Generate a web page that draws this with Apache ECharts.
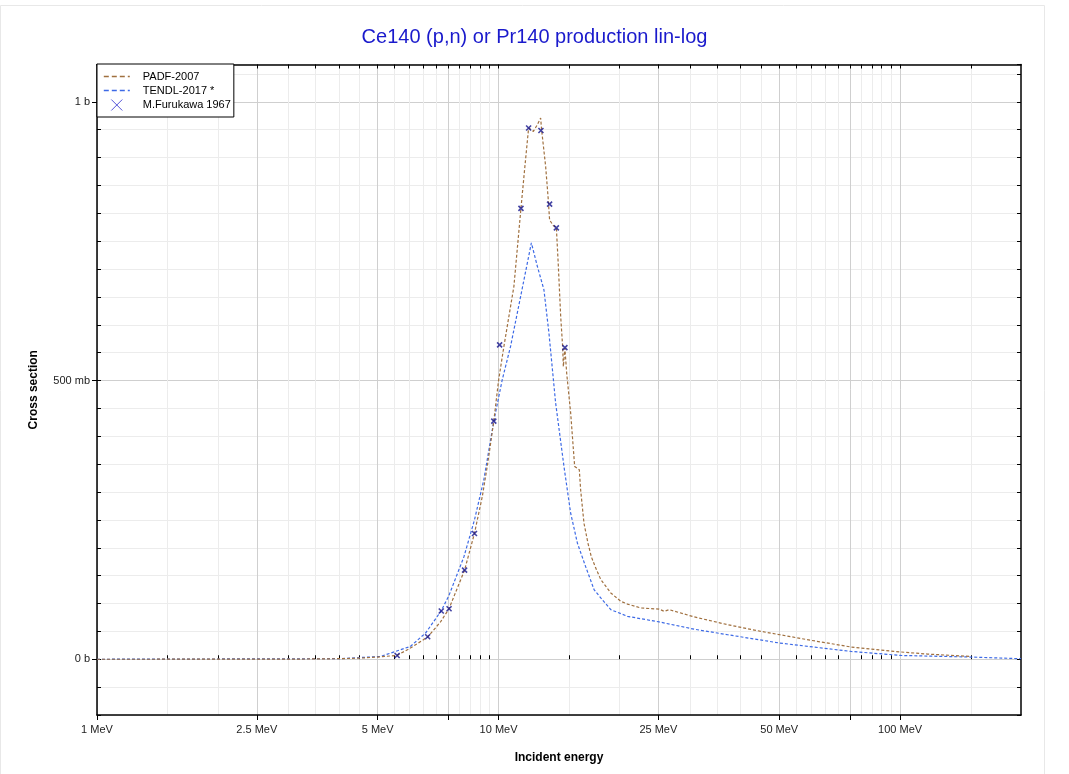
<!DOCTYPE html>
<html>
<head>
<meta charset="utf-8">
<script src="https://cdn.jsdelivr.net/npm/echarts@6/dist/echarts.min.js"></script>
<style>
  html, body { margin: 0; padding: 0; background: #fff; }
  #chart { width: 1069px; height: 774px; }
</style>
</head>
<body>
<div id="chart"></div>
<script>
'use strict';

// PADF-2007 evaluation [MeV, b]
var padf = [
  [1, 0], [3, 0.0002], [4, 0.001], [4.5, 0.002], [5, 0.004], [5.59, 0.007], [6.03, 0.020],
  [6.66, 0.040], [7.17, 0.067], [7.53, 0.091], [8.23, 0.160], [8.71, 0.226], [9.11, 0.292],
  [9.40, 0.352], [9.73, 0.427], [10.0, 0.50], [10.31, 0.561], [10.92, 0.669], [11.37, 0.809],
  [11.63, 0.884], [11.88, 0.953], [12.21, 0.947], [12.49, 0.959], [12.73, 0.971], [12.80, 0.950],
  [13.10, 0.884], [13.30, 0.824], [13.40, 0.788], [13.69, 0.778], [13.93, 0.774], [14.09, 0.705],
  [14.28, 0.615], [14.44, 0.561], [14.50, 0.525], [14.63, 0.558], [14.78, 0.513], [15.12, 0.442],
  [15.47, 0.346], [15.89, 0.340], [16.01, 0.304], [16.32, 0.244], [16.70, 0.208], [17.02, 0.184],
  [17.45, 0.164], [17.97, 0.143], [19.03, 0.119], [20.15, 0.104], [20.94, 0.099], [22.61, 0.092],
  [25.11, 0.090], [25.84, 0.086], [26.59, 0.089], [30.69, 0.076], [37.19, 0.062], [45.02, 0.050],
  [50.2, 0.044], [60, 0.034], [75.5, 0.022], [96.8, 0.014], [117, 0.0093], [150, 0.005]
];

// TENDL-2017 evaluation [MeV, b]
var tendl = [
  [1, 0], [4, 0.001], [5.08, 0.005], [6.03, 0.023], [6.58, 0.047], [7.20, 0.087], [7.53, 0.115],
  [8.20, 0.184], [8.71, 0.250], [9.19, 0.322], [9.73, 0.427], [10.21, 0.501], [10.71, 0.561],
  [11.35, 0.651], [12.07, 0.747], [12.49, 0.705], [12.97, 0.663], [13.35, 0.585], [13.87, 0.46],
  [14.55, 0.346], [15.12, 0.262], [15.72, 0.208], [16.48, 0.166], [17.29, 0.125], [17.97, 0.110],
  [19.03, 0.089], [20.94, 0.077], [25.11, 0.067], [30.69, 0.054], [37.19, 0.044], [50.2, 0.029],
  [75.5, 0.014], [100.6, 0.0068], [150, 0.004], [200, 0.001]
];

// M.Furukawa 1967 measurements [MeV, b]
var furukawa = [
  [5.59, 0.0068], [6.66, 0.0404], [7.20, 0.0866], [7.53, 0.0907], [8.23, 0.160], [8.71, 0.2257],
  [9.73, 0.4273], [10.06, 0.564], [11.37, 0.809], [11.88, 0.953], [12.75, 0.9485], [13.40, 0.8165],
  [13.93, 0.774], [14.63, 0.559]
];

var xMajorTicks = [1, 2.5, 5, 7.5, 10, 25, 50, 75, 100];
var xLabels = [1, 2.5, 5, 10, 25, 50, 100];
var xMinorTicks = [1.5, 2, 3, 3.5, 4, 4.5, 5.5, 6, 6.5, 7, 8, 8.5, 9, 9.5, 15, 20,
  30, 35, 40, 45, 55, 60, 65, 70, 80, 85, 90, 95, 150];
var xAllTicks = xMajorTicks.concat(xMinorTicks);
var yMajor = [0, 0.5, 1];
var yLabelText = { '0': '0 b', '0.5': '500 mb', '1': '1 b' };

var font = 'Liberation Sans, Arial, sans-serif';
var brown = '#a0703f';
var blue = '#3d6ae6';
var mark = '#14148c';

var chart = echarts.init(document.getElementById('chart'), null, { renderer: 'canvas' });

var xBase = { type: 'log', logBase: 10, min: 1, max: 200, gridIndex: 0 };
var yBase = { type: 'value', min: -0.1, max: 1.067, gridIndex: 0 };

var option = {
  backgroundColor: '#fff',
  animation: false,
  textStyle: { fontFamily: font },
  graphic: [{
    type: 'rect', silent: true, z: -10,
    shape: { x: 0.5, y: 5.5, width: 1044, height: 800 },
    style: { fill: 'none', stroke: '#e8e8e8', lineWidth: 1 }
  }],
  title: {
    text: 'Ce140 (p,n) or Pr140 production lin-log',
    left: 'center', top: 22,
    textStyle: { color: '#1a1acc', fontSize: 20, fontWeight: 'normal', fontFamily: font }
  },
  legend: {
    orient: 'vertical', left: 97, top: 64,
    backgroundColor: '#fff', borderColor: '#000', borderWidth: 1, borderRadius: 0,
    padding: [7, 3, 6, 6], itemGap: 3, itemWidth: 26, itemHeight: 11,
    textStyle: { fontSize: 11, color: '#000', fontFamily: font, padding: [0, 0, 0, 8] },
    data: [
      { name: 'PADF-2007', itemStyle: { opacity: 0 }, lineStyle: { type: [5, 3], width: 1.6 } },
      { name: 'TENDL-2017 *', itemStyle: { opacity: 0 }, lineStyle: { type: [5, 3], width: 1.6 } },
      { name: 'M.Furukawa 1967', itemStyle: { color: 'rgba(0,0,0,0)', borderColor: '#2a2ad0', borderWidth: 1 } }
    ]
  },
  grid: { left: 97, right: 48, top: 64.5, bottom: 59, containLabel: false },
  xAxis: [
    Object.assign({}, xBase, {
      position: 'bottom',
      axisLine: { show: false },
      axisTick: { show: true, inside: true, length: 4, customValues: xMinorTicks, lineStyle: { color: '#000' } },
      axisLabel: { show: false },
      splitLine: { show: true, lineStyle: { color: '#ececec', width: 1 } }
    }),
    Object.assign({}, xBase, {
      position: 'top',
      axisLine: { show: true, onZero: false, lineStyle: { color: '#000', width: 1.5 } },
      axisTick: { show: true, inside: true, length: 4, customValues: xAllTicks, lineStyle: { color: '#000' } },
      axisLabel: { show: false },
      splitLine: { show: false }
    }),
    Object.assign({}, xBase, {
      position: 'bottom',
      name: 'Incident energy', nameLocation: 'middle', nameGap: 37,
      nameTextStyle: { fontSize: 12, fontWeight: 'bold', color: '#000', fontFamily: font },
      axisLine: { show: true, onZero: false, lineStyle: { color: '#000', width: 1.5 } },
      axisTick: { show: true, inside: false, length: 5, customValues: xMajorTicks, lineStyle: { color: '#000' } },
      axisLabel: {
        customValues: xLabels, fontSize: 11, color: '#222', margin: 9, fontFamily: font,
        formatter: function (v) { return (Math.round(v * 100) / 100) + ' MeV'; }
      },
      splitLine: { show: true, lineStyle: { color: '#cfcfcf', width: 1 } }
    })
  ],
  yAxis: [
    Object.assign({}, yBase, {
      position: 'left', interval: 0.05,
      axisLine: { show: false },
      axisTick: { show: true, inside: true, length: 4, lineStyle: { color: '#000' } },
      axisLabel: { show: false },
      splitLine: { show: true, lineStyle: { color: '#ececec', width: 1 } }
    }),
    Object.assign({}, yBase, {
      position: 'right', interval: 0.05,
      axisLine: { show: true, onZero: false, lineStyle: { color: '#000', width: 1.5 } },
      axisTick: { show: true, inside: true, length: 4, lineStyle: { color: '#000' } },
      axisLabel: { show: false },
      splitLine: { show: false }
    }),
    Object.assign({}, yBase, {
      position: 'left',
      name: 'Cross section', nameLocation: 'middle', nameGap: 57, nameRotate: 90,
      nameTextStyle: { fontSize: 12, fontWeight: 'bold', color: '#000', fontFamily: font },
      axisLine: { show: true, onZero: false, lineStyle: { color: '#000', width: 1.5 } },
      axisTick: { show: true, inside: false, length: 5, customValues: yMajor, lineStyle: { color: '#000' } },
      axisLabel: {
        customValues: yMajor, fontSize: 11, color: '#222', margin: 7, fontFamily: font,
        formatter: function (v) { return yLabelText[String(Math.round(v * 10) / 10)] || ''; }
      },
      splitLine: { show: true, lineStyle: { color: '#cfcfcf', width: 1 } }
    })
  ],
  series: [
    {
      name: 'PADF-2007', type: 'line', xAxisIndex: 2, yAxisIndex: 2,
      data: padf, showSymbol: false, symbol: 'none', z: 3,
      itemStyle: { color: brown },
      lineStyle: { color: brown, width: 1.2, type: [3, 2] }
    },
    {
      name: 'TENDL-2017 *', type: 'line', xAxisIndex: 2, yAxisIndex: 2,
      data: tendl, showSymbol: false, symbol: 'none', z: 2,
      itemStyle: { color: blue },
      lineStyle: { color: blue, width: 1.2, type: [3, 2] }
    },
    {
      name: 'M.Furukawa 1967', type: 'scatter', xAxisIndex: 2, yAxisIndex: 2,
      data: furukawa, z: 4,
      symbol: 'path://M0,0L10,10M10,0L0,10', symbolSize: 5,
      itemStyle: { color: 'rgba(0,0,0,0)', borderColor: mark, borderWidth: 1.6 }
    }
  ]
};

chart.setOption(option);
</script>
</body>
</html>
